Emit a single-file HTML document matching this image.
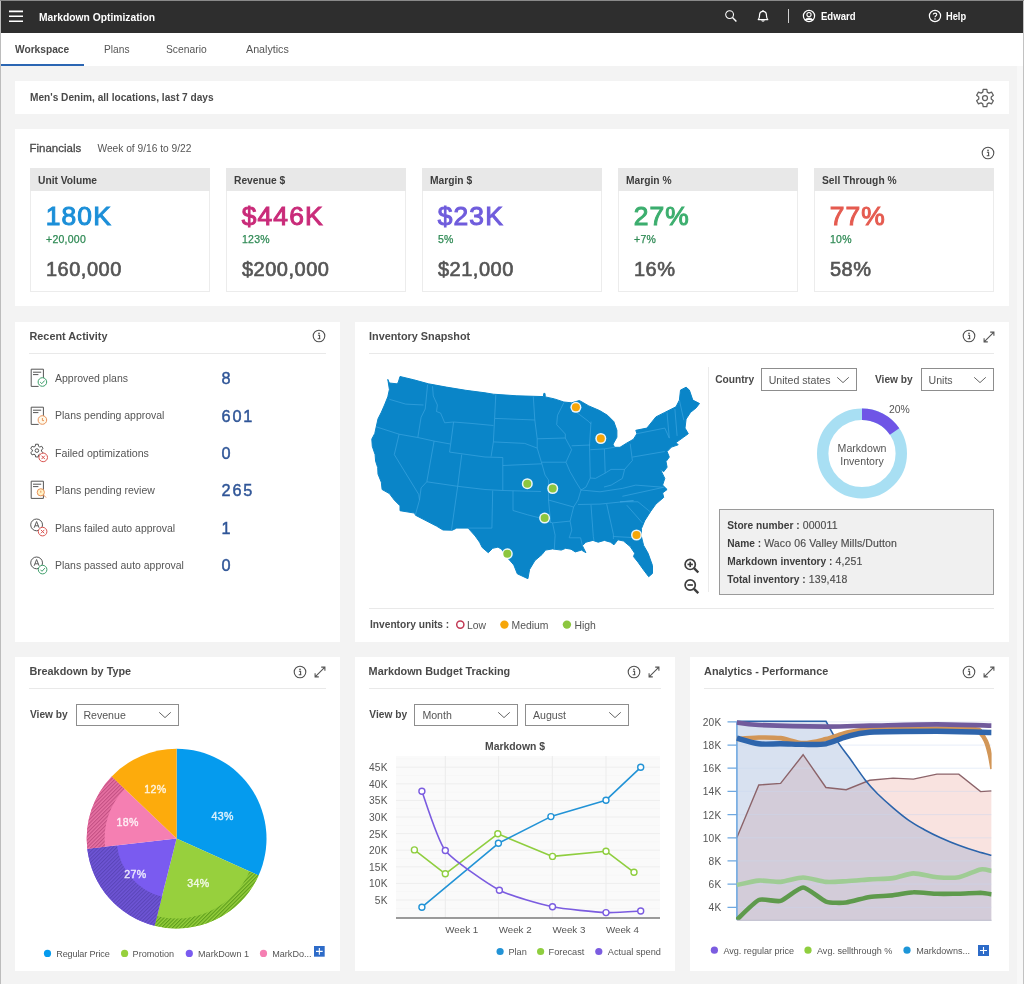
<!DOCTYPE html>
<html><head><meta charset="utf-8"><title>Markdown Optimization</title>
<style>
html,body{margin:0;padding:0;background:#f3f3f3;}
body{width:1024px;height:984px;overflow:hidden;position:relative;font-family:"Liberation Sans",sans-serif;}
.b{position:absolute;display:block;box-sizing:content-box;}
.t{position:absolute;white-space:nowrap;font-family:"Liberation Sans",sans-serif;}
svg{overflow:visible;}
#w{position:absolute;left:0;top:0;width:1024px;height:984px;will-change:transform;}
</style></head><body><div id="w">

<!-- s_header -->
<div class="b" style="left:0px;top:0px;width:1024px;height:984px;background:#f3f3f3;"></div>
<div class="b" style="left:0px;top:0px;width:1024px;height:33px;background:#2e2e2e;"></div>
<div class="b" style="left:0px;top:0px;width:1024px;height:1px;background:#8a8a8a;"></div>
<svg class="b" style="left:9px;top:8px;" width="14" height="16" viewBox="0 0 14 16"><path d="M0 3.4H14M0 8.3H14M0 13.2H14" stroke="#fff" stroke-width="1.6"/></svg>
<div class="t" style="top:9.70px;height:15px;line-height:15px;font-size:11px;color:#fff;font-weight:bold;left:39.00px;transform:scaleX(0.935);transform-origin:0 50%;">Markdown Optimization</div>
<svg class="b" style="left:723px;top:8px;" width="16" height="16" viewBox="0 0 16 16"><circle cx="6.6" cy="6.6" r="3.9" fill="none" stroke="#fff" stroke-width="1.05"/><path d="M9.5 9.5L13.4 13.4" stroke="#fff" stroke-width="1.4"/></svg>
<svg class="b" style="left:755px;top:8px;" width="16" height="16" viewBox="0 0 16 16"><path d="M3.2 11.6C4.6 10.4 4.4 8.6 4.6 6.6C4.8 4.6 6.2 3.4 8 3.4C9.8 3.4 11.2 4.6 11.4 6.6C11.6 8.6 11.4 10.4 12.8 11.6Z" fill="none" stroke="#fff" stroke-width="1.2" stroke-linejoin="round"/><path d="M8 3.4V2M6.8 12.2C6.9 13.4 9.1 13.4 9.2 12.2" fill="none" stroke="#fff" stroke-width="1.2"/></svg>
<div class="b" style="left:787.5px;top:9px;width:1px;height:14px;background:#d0d0d0;"></div>
<svg class="b" style="left:801px;top:8px;" width="16" height="16" viewBox="0 0 16 16"><circle cx="8" cy="8" r="5.6" fill="none" stroke="#fff" stroke-width="1.2"/><circle cx="8" cy="6.6" r="2.1" fill="none" stroke="#fff" stroke-width="1.1"/><path d="M4.2 11.9C5 9.6 11 9.6 11.8 11.9" fill="#fff" stroke="#fff" stroke-width="1"/></svg>
<div class="t" style="top:9.20px;height:15px;line-height:15px;font-size:10.8px;color:#fff;font-weight:bold;left:820.50px;transform:scaleX(0.885);transform-origin:0 50%;">Edward</div>
<svg class="b" style="left:927px;top:8px;" width="16" height="16" viewBox="0 0 16 16"><circle cx="8" cy="8" r="5.6" fill="none" stroke="#fff" stroke-width="1.2"/><path d="M6.3 6.6C6.3 4.6 9.8 4.6 9.8 6.6C9.8 7.8 8 7.8 8 9.3" fill="none" stroke="#fff" stroke-width="1.1"/><circle cx="8" cy="11" r="0.8" fill="#fff"/></svg>
<div class="t" style="top:9.20px;height:15px;line-height:15px;font-size:10.8px;color:#fff;font-weight:bold;left:946.00px;transform:scaleX(0.86);transform-origin:0 50%;">Help</div>
<div class="b" style="left:0px;top:33px;width:1024px;height:33px;background:#fff;"></div>
<div class="b" style="left:0px;top:64px;width:84px;height:2px;background:#2b66b3;"></div>
<div class="t" style="top:42.60px;height:14px;line-height:14px;font-size:10.2px;color:#4a4a4a;font-weight:bold;left:15.00px;">Workspace</div>
<div class="t" style="top:42.60px;height:14px;line-height:14px;font-size:10.2px;color:#555;left:104.00px;">Plans</div>
<div class="t" style="top:42.60px;height:14px;line-height:14px;font-size:10.3px;color:#555;left:166.00px;">Scenario</div>
<div class="t" style="top:42.10px;height:15px;line-height:15px;font-size:10.7px;color:#555;left:246.00px;">Analytics</div>
<div class="b" style="left:15px;top:81px;width:994px;height:33px;background:#fff;"></div>
<div class="t" style="top:90.90px;height:14px;line-height:14px;font-size:10.15px;color:#4a4a4a;font-weight:bold;left:30.00px;">Men's Denim, all locations, last 7 days</div>
<svg class="b" style="left:974.9px;top:87.6px;" width="20" height="20" viewBox="0 0 20 20"><path d="M7.74 4.12L8.17 1.39L11.83 1.39L12.26 4.12L13.96 5.10L16.54 4.11L18.37 7.28L16.22 9.01L16.22 10.99L18.37 12.72L16.54 15.89L13.96 14.90L12.26 15.88L11.83 18.61L8.17 18.61L7.74 15.88L6.04 14.90L3.46 15.89L1.63 12.72L3.78 10.99L3.78 9.01L1.63 7.28L3.46 4.11L6.04 5.10Z" fill="none" stroke="#606060" stroke-width="1.25" stroke-linejoin="round"/><circle cx="10" cy="10" r="2.5" fill="none" stroke="#606060" stroke-width="1.25"/></svg>
<div class="b" style="left:1016.5px;top:66px;width:6.5px;height:918px;background:#f8f8f8;"></div>
<div class="b" style="left:0px;top:1px;width:1px;height:983px;background:#bcbcbc;"></div>
<div class="b" style="left:1023px;top:1px;width:1px;height:983px;background:#c2c2c2;"></div>
<!-- s_fin -->
<div class="b" style="left:15px;top:129px;width:994px;height:177px;background:#fff;"></div>
<div class="t" style="top:139.60px;height:16px;line-height:16px;font-size:11.5px;color:#4a4a4a;left:29.50px;-webkit-text-stroke:0.3px #4a4a4a;">Financials</div>
<div class="t" style="top:142.10px;height:14px;line-height:14px;font-size:10.2px;color:#555;left:97.50px;">Week of 9/16 to 9/22</div>
<svg class="b" style="left:979.8px;top:145.39999999999998px;" width="16" height="16" viewBox="0 0 16 16"><circle cx="8" cy="8" r="5.8" fill="none" stroke="#505050" stroke-width="1.1"/><circle cx="8" cy="5.3" r="0.85" fill="#505050"/><path d="M6.9 7.2h1.7v3.4M6.7 10.7h2.7" fill="none" stroke="#505050" stroke-width="1.1"/></svg>
<div class="b" style="left:30px;top:168px;width:178px;height:122px;border:1px solid #ececec;background:#fff;"></div>
<div class="b" style="left:30px;top:168px;width:180px;height:23px;background:#e8e8e8;"></div>
<div class="t" style="top:173.90px;height:14px;line-height:14px;font-size:10.25px;color:#3d3d3d;font-weight:bold;left:38.00px;">Unit Volume</div>
<div class="t" style="top:197.50px;height:37px;line-height:37px;font-size:26.4px;color:#1c8fd8;letter-spacing:1.1px;left:45.80px;-webkit-text-stroke:1.05px #1c8fd8;">180K</div>
<div class="t" style="top:231.70px;height:15px;line-height:15px;font-size:10.5px;color:#2f8a55;letter-spacing:0.25px;left:46.00px;-webkit-text-stroke:0.25px #2f8a55;">+20,000</div>
<div class="t" style="top:255.30px;height:28px;line-height:28px;font-size:20px;color:#555;letter-spacing:0.5px;left:46.00px;-webkit-text-stroke:0.65px #555;">160,000</div>
<div class="b" style="left:226px;top:168px;width:178px;height:122px;border:1px solid #ececec;background:#fff;"></div>
<div class="b" style="left:226px;top:168px;width:180px;height:23px;background:#e8e8e8;"></div>
<div class="t" style="top:173.90px;height:14px;line-height:14px;font-size:10.25px;color:#3d3d3d;font-weight:bold;left:234.00px;">Revenue $</div>
<div class="t" style="top:197.50px;height:37px;line-height:37px;font-size:26.4px;color:#c92b79;letter-spacing:1.1px;left:241.80px;-webkit-text-stroke:1.05px #c92b79;">$446K</div>
<div class="t" style="top:231.70px;height:15px;line-height:15px;font-size:10.5px;color:#2f8a55;letter-spacing:0.25px;left:242.00px;-webkit-text-stroke:0.25px #2f8a55;">123%</div>
<div class="t" style="top:255.30px;height:28px;line-height:28px;font-size:20px;color:#555;letter-spacing:0.5px;left:242.00px;-webkit-text-stroke:0.65px #555;">$200,000</div>
<div class="b" style="left:422px;top:168px;width:178px;height:122px;border:1px solid #ececec;background:#fff;"></div>
<div class="b" style="left:422px;top:168px;width:180px;height:23px;background:#e8e8e8;"></div>
<div class="t" style="top:173.90px;height:14px;line-height:14px;font-size:10.25px;color:#3d3d3d;font-weight:bold;left:430.00px;">Margin $</div>
<div class="t" style="top:197.50px;height:37px;line-height:37px;font-size:26.4px;color:#6f5cdc;letter-spacing:1.1px;left:437.80px;-webkit-text-stroke:1.05px #6f5cdc;">$23K</div>
<div class="t" style="top:231.70px;height:15px;line-height:15px;font-size:10.5px;color:#2f8a55;letter-spacing:0.25px;left:438.00px;-webkit-text-stroke:0.25px #2f8a55;">5%</div>
<div class="t" style="top:255.30px;height:28px;line-height:28px;font-size:20px;color:#555;letter-spacing:0.5px;left:438.00px;-webkit-text-stroke:0.65px #555;">$21,000</div>
<div class="b" style="left:618px;top:168px;width:178px;height:122px;border:1px solid #ececec;background:#fff;"></div>
<div class="b" style="left:618px;top:168px;width:180px;height:23px;background:#e8e8e8;"></div>
<div class="t" style="top:173.90px;height:14px;line-height:14px;font-size:10.25px;color:#3d3d3d;font-weight:bold;left:626.00px;">Margin %</div>
<div class="t" style="top:197.50px;height:37px;line-height:37px;font-size:26.4px;color:#3cae6e;letter-spacing:1.1px;left:633.80px;-webkit-text-stroke:1.05px #3cae6e;">27%</div>
<div class="t" style="top:231.70px;height:15px;line-height:15px;font-size:10.5px;color:#2f8a55;letter-spacing:0.25px;left:634.00px;-webkit-text-stroke:0.25px #2f8a55;">+7%</div>
<div class="t" style="top:255.30px;height:28px;line-height:28px;font-size:20px;color:#555;letter-spacing:0.5px;left:634.00px;-webkit-text-stroke:0.65px #555;">16%</div>
<div class="b" style="left:814px;top:168px;width:178px;height:122px;border:1px solid #ececec;background:#fff;"></div>
<div class="b" style="left:814px;top:168px;width:180px;height:23px;background:#e8e8e8;"></div>
<div class="t" style="top:173.90px;height:14px;line-height:14px;font-size:10.25px;color:#3d3d3d;font-weight:bold;left:822.00px;">Sell Through %</div>
<div class="t" style="top:197.50px;height:37px;line-height:37px;font-size:26.4px;color:#e55b50;letter-spacing:1.1px;left:829.80px;-webkit-text-stroke:1.05px #e55b50;">77%</div>
<div class="t" style="top:231.70px;height:15px;line-height:15px;font-size:10.5px;color:#2f8a55;letter-spacing:0.25px;left:830.00px;-webkit-text-stroke:0.25px #2f8a55;">10%</div>
<div class="t" style="top:255.30px;height:28px;line-height:28px;font-size:20px;color:#555;letter-spacing:0.5px;left:830.00px;-webkit-text-stroke:0.65px #555;">58%</div>
<!-- s_activity -->
<div class="b" style="left:15px;top:322px;width:325px;height:320px;background:#fff;"></div>
<div class="t" style="top:328.90px;height:15px;line-height:15px;font-size:10.85px;color:#4a4a4a;font-weight:bold;left:29.50px;">Recent Activity</div>
<svg class="b" style="left:311.3px;top:328.2px;" width="16" height="16" viewBox="0 0 16 16"><circle cx="8" cy="8" r="5.8" fill="none" stroke="#505050" stroke-width="1.1"/><circle cx="8" cy="5.3" r="0.85" fill="#505050"/><path d="M6.9 7.2h1.7v3.4M6.7 10.7h2.7" fill="none" stroke="#505050" stroke-width="1.1"/></svg>
<div class="b" style="left:29px;top:353px;width:297px;height:1px;background:#e9e9e9;"></div>
<svg class="b" style="left:29.9px;top:368.0px;" width="20" height="22" viewBox="0 0 20 22"><path d="M1.2 1.2H13.4V10.2M8.6 18.4H1.2V1.2" fill="none" stroke="#555" stroke-width="1"/><path d="M3 4.2H11.2M3 6.6H8.4" fill="none" stroke="#555" stroke-width="1"/><circle cx="12.4" cy="14" r="4.3" fill="#fff" stroke="#3d9e6a" stroke-width="1"/><path d="M10.2 14.1L11.8 15.7L14.7 12.5" fill="none" stroke="#3d9e6a" stroke-width="1"/></svg>
<div class="t" style="top:370.60px;height:15px;line-height:15px;font-size:10.5px;color:#555;left:55.00px;">Approved plans</div>
<div class="t" style="top:366.50px;height:23px;line-height:23px;font-size:16.3px;color:#2f5597;letter-spacing:1.8px;left:221.60px;-webkit-text-stroke:0.45px #2f5597;">8</div>
<svg class="b" style="left:29.9px;top:405.5px;" width="20" height="22" viewBox="0 0 20 22"><path d="M1.2 1.2H13.4V10.2M8.6 18.4H1.2V1.2" fill="none" stroke="#555" stroke-width="1"/><path d="M3 4.2H11.2M3 6.6H8.4" fill="none" stroke="#555" stroke-width="1"/><circle cx="12.4" cy="14" r="4.3" fill="#fff8e8" stroke="#e8925a" stroke-width="1"/><path d="M12.4 12V14.6H14.0" fill="none" stroke="#e8925a" stroke-width="1"/></svg>
<div class="t" style="top:408.10px;height:15px;line-height:15px;font-size:10.48px;color:#555;left:55.00px;">Plans pending approval</div>
<div class="t" style="top:404.60px;height:23px;line-height:23px;font-size:16.3px;color:#2f5597;letter-spacing:1.8px;left:221.60px;-webkit-text-stroke:0.45px #2f5597;">601</div>
<svg class="b" style="left:30.2px;top:443.09999999999997px;" width="20" height="22" viewBox="0 0 20 22"><path d="M5.25 3.31L5.55 1.24L8.25 1.24L8.55 3.31L9.79 4.03L11.73 3.25L13.08 5.59L11.44 6.88L11.44 8.32L13.08 9.61L11.73 11.95L9.79 11.17L8.55 11.89L8.25 13.96L5.55 13.96L5.25 11.89L4.01 11.17L2.07 11.95L0.72 9.61L2.36 8.32L2.36 6.88L0.72 5.59L2.07 3.25L4.01 4.03Z" fill="none" stroke="#555" stroke-width="1" stroke-linejoin="round"/><circle cx="6.9" cy="7.6" r="1.8" fill="none" stroke="#555" stroke-width="1"/><circle cx="13.2" cy="14.4" r="4.3" fill="#fff" stroke="#d9534f" stroke-width="1"/><path d="M11.5 12.700000000000001L14.899999999999999 16.1M14.899999999999999 12.700000000000001L11.5 16.1" fill="none" stroke="#d9534f" stroke-width="1"/></svg>
<div class="t" style="top:445.60px;height:15px;line-height:15px;font-size:10.64px;color:#555;left:55.00px;">Failed optimizations</div>
<div class="t" style="top:441.50px;height:23px;line-height:23px;font-size:16.3px;color:#2f5597;letter-spacing:1.8px;left:221.60px;-webkit-text-stroke:0.45px #2f5597;">0</div>
<svg class="b" style="left:29.9px;top:480.0px;" width="20" height="22" viewBox="0 0 20 22"><path d="M1.2 1.2H13.4V18.4H1.2Z" fill="none" stroke="#555" stroke-width="1"/><path d="M3 4.2H11.2M3 6.6H8.4" fill="none" stroke="#555" stroke-width="1"/><circle cx="10.8" cy="12.3" r="3.6" fill="#fff3c8" stroke="#e8925a" stroke-width="1"/><path d="M10.8 10.700000000000001V12.700000000000001M13.4 14.9L16.0 17.5" fill="none" stroke="#e8925a" stroke-width="1"/></svg>
<div class="t" style="top:483.10px;height:15px;line-height:15px;font-size:10.5px;color:#555;left:55.00px;">Plans pending review</div>
<div class="t" style="top:479.00px;height:23px;line-height:23px;font-size:16.3px;color:#2f5597;letter-spacing:1.8px;left:221.60px;-webkit-text-stroke:0.45px #2f5597;">265</div>
<svg class="b" style="left:29.7px;top:518.4px;" width="20" height="22" viewBox="0 0 20 22"><circle cx="6.6" cy="6.9" r="5.9" fill="none" stroke="#555" stroke-width="1"/><path d="M4.1 9.8L6.6 3.5000000000000004L9.1 9.8M5.0 7.800000000000001H8.2" fill="none" stroke="#555" stroke-width="0.95"/><circle cx="12.6" cy="13.6" r="4.3" fill="#fff" stroke="#d9534f" stroke-width="1"/><path d="M10.9 11.9L14.299999999999999 15.299999999999999M14.299999999999999 11.9L10.9 15.299999999999999" fill="none" stroke="#d9534f" stroke-width="1"/></svg>
<div class="t" style="top:520.60px;height:15px;line-height:15px;font-size:10.45px;color:#555;left:55.00px;">Plans failed auto approval</div>
<div class="t" style="top:516.50px;height:23px;line-height:23px;font-size:16.3px;color:#2f5597;letter-spacing:1.8px;left:221.60px;-webkit-text-stroke:0.45px #2f5597;">1</div>
<svg class="b" style="left:29.7px;top:555.9px;" width="20" height="22" viewBox="0 0 20 22"><circle cx="6.6" cy="6.9" r="5.9" fill="none" stroke="#555" stroke-width="1"/><path d="M4.1 9.8L6.6 3.5000000000000004L9.1 9.8M5.0 7.800000000000001H8.2" fill="none" stroke="#555" stroke-width="0.95"/><circle cx="12.6" cy="13.6" r="4.3" fill="#fff" stroke="#3d9e6a" stroke-width="1"/><path d="M10.399999999999999 13.7L12.0 15.299999999999999L14.899999999999999 12.1" fill="none" stroke="#3d9e6a" stroke-width="1"/></svg>
<div class="t" style="top:558.10px;height:15px;line-height:15px;font-size:10.45px;color:#555;left:55.00px;">Plans passed auto approval</div>
<div class="t" style="top:554.00px;height:23px;line-height:23px;font-size:16.3px;color:#2f5597;letter-spacing:1.8px;left:221.60px;-webkit-text-stroke:0.45px #2f5597;">0</div>
<!-- s_inventory -->
<div class="b" style="left:355px;top:322px;width:654px;height:320px;background:#fff;"></div>
<div class="t" style="top:328.90px;height:15px;line-height:15px;font-size:10.85px;color:#4a4a4a;font-weight:bold;left:369.00px;">Inventory Snapshot</div>
<svg class="b" style="left:960.6999999999999px;top:328.2px;" width="16" height="16" viewBox="0 0 16 16"><circle cx="8" cy="8" r="5.8" fill="none" stroke="#505050" stroke-width="1.1"/><circle cx="8" cy="5.3" r="0.85" fill="#505050"/><path d="M6.9 7.2h1.7v3.4M6.7 10.7h2.7" fill="none" stroke="#505050" stroke-width="1.1"/></svg>
<svg class="b" style="left:980.5px;top:328.8px;" width="16" height="16" viewBox="0 0 16 16"><path d="M3.0999999999999996 12.9L12.9 3.0999999999999996M9.2 3.0999999999999996H12.9V6.8M3.0999999999999996 9.2V12.9H6.8" fill="none" stroke="#555" stroke-width="1.1"/></svg>
<div class="b" style="left:369px;top:353px;width:625px;height:1px;background:#e9e9e9;"></div>
<svg class="b" style="left:0px;top:0px;" width="1024" height="984" viewBox="0 0 1024 984"><path d="M387.8 379.4L389.4 383.0L396.7 383.8L398.3 382.2L400.0 376.5L413.8 379.8L428.4 383.8L446.3 387.1L465.8 390.3L485.0 392.8L493.4 394.2L516.9 395.8L543.4 396.6L543.8 393.4L545.0 393.4L545.3 396.9L554.4 398.9L563.8 402.0L571.6 402.8L579.4 400.5L588.8 405.9L599.7 410.6L607.5 415.3L613.8 421.6L616.9 430.2L616.9 437.2L613.0 444.2L614.5 447.3L620.0 447.3L626.2 443.4L633.5 439.2L636.9 433.7L635.8 430.3L646.9 428.1L655.9 416.9L664.8 412.4L676.0 406.8L679.4 400.1L680.5 390.1L686.1 387.2L689.4 390.1L692.8 400.1L699.5 403.5L696.1 407.9L690.5 412.4L686.1 419.1L685.0 428.1L688.3 433.7L683.8 437.0L676.0 442.6L678.2 444.8L671.5 447.1L667.1 451.5L669.3 457.1L666.0 461.6L667.1 467.2L663.7 471.7L660.4 469.4L664.8 478.4L662.6 485.1L667.1 489.5L662.6 492.9L663.7 497.4L655.9 504.1L650.3 511.9L644.7 520.8L641.4 528.7L641.4 536.5L643.6 545.4L648.1 553.3L652.5 565.6L652.5 573.4L648.7 576.7L643.6 570.0L638.0 562.2L633.5 556.6L634.7 553.3L630.2 546.6L623.5 541.0L617.9 539.8L614.0 544.8L610.5 542.2L604.4 540.4L598.2 542.2L592.9 540.4L585.9 542.2L582.4 545.7L585.9 552.7L581.5 550.1L575.3 551.9L571.0 549.2L565.7 548.3L561.3 550.1L552.5 548.9L545.5 550.1L542.0 554.5L534.9 560.6L529.6 569.4L527.9 578.7L517.3 573.8L513.8 565.0L507.7 558.0L501.5 549.2L498.0 547.1L492.7 548.3L488.3 552.7L482.2 547.5L479.6 542.2L475.2 536.0L468.1 528.1L456.7 528.1L452.3 530.2L443.0 530.0L436.5 526.1L415.4 515.2L414.6 513.1L400.0 510.7L400.0 505.8L394.3 500.1L389.4 493.6L382.1 489.5L381.3 482.2L378.0 474.1L377.7 467.6L375.6 461.1L375.1 454.6L372.3 446.4L371.8 439.1L374.8 433.4L376.4 426.1L378.0 418.8L381.3 412.3L384.5 405.0L387.8 396.8L389.4 389.5Z" fill="#0a85c8" stroke="#0a85c8" stroke-width="1" stroke-linejoin="round"/><path d="M389.4 399.3L405.7 404.1L423.5 405.0M427.6 384.6L425.2 409.0L421.1 417.2L417.8 437.5M432.5 386.3L433.3 396.0L437.4 405.0L436.5 411.5L440.6 413.1L444.7 422.8L453.6 422.0M376.4 426.9L399.1 434.2L417.8 437.5L434.1 441.1L450.4 444.0M399.1 434.2L394.3 454.6L418.7 494.4L419.5 500.0L415.4 514.7M434.1 441.1L426.8 481.8L421.1 487.9L419.5 500.0M453.6 422.0L449.6 452.1L485.0 457.0L502.8 457.5M453.6 422.0L470.0 423.3L493.4 425.5M461.7 454.6L457.7 486.3M426.8 481.8L457.7 486.3L485.0 489.5L502.8 490.5L541.0 491.5M457.7 486.3L451.5 530.0M495.8 395.0L493.4 441.9L491.1 456.5M495.0 418.4L534.8 420.0M533.3 396.6L534.8 420.0L537.2 438.8L537.2 448.1L541.9 463.8L545.0 475.0L548.5 480.0L548.5 500.0M493.4 441.9L524.7 443.4L537.2 448.1M502.8 457.5L502.8 490.5M502.8 465.5L541.9 463.8M537.2 438.8L565.3 438.0M541.9 462.2L566.0 462.2M563.8 402.8L557.5 415.3L556.7 424.7L565.3 434.0L565.3 438.0L571.6 449.7L566.0 462.2L570.0 471.6L576.0 482.0L581.0 490.0L578.0 500.0L573.6 507.0L570.1 521.1L571.8 530.0L569.2 537.8M571.6 445.8L590.3 445.0M576.2 412.0L588.8 421.6L591.0 424.0M591.0 421.6L589.5 445.0L590.3 478.0L586.0 487.0L581.0 490.0M590.3 449.7L604.4 448.9L605.2 473.1L595.5 478.4L590.3 478.0M604.4 448.9L614.5 447.3M605.2 473.1L611.0 469.4L624.6 469.4L632.4 460.5L630.2 443.7M632.4 457.1L664.8 451.5M636.9 433.7L664.8 428.1L669.3 438.1M667.0 412.4L669.3 438.1M674.9 409.0L677.1 435.9M679.4 400.1L683.8 420.2M624.6 469.4L622.4 478.4L611.2 485.1L604.0 487.0M581.0 490.0L600.0 491.8L622.4 488.4L635.8 485.1L663.7 487.3M622.4 496.3L663.7 487.3M578.0 504.5L600.0 504.1L633.5 500.7L620.0 501.8M620.0 501.8L638.0 501.8L650.3 511.9M626.8 505.2L642.5 523.0M606.7 504.1L613.4 534.3L613.4 539.0M591.0 505.0L593.3 536.5L594.0 541.0M613.4 536.5L633.5 537.6L636.0 535.0M492.7 490.5L491.9 528.1L468.1 528.1M513.0 490.8L513.0 510.5L527.9 514.9L538.4 517.6L552.5 522.9L570.1 521.1M552.5 522.9L555.1 535.2L554.3 549.2M569.2 537.8L580.6 537.8L582.4 545.7M548.5 500.0L573.6 507.0M548.5 500.0L550.7 522.9" fill="none" stroke="#3ba4e0" stroke-width="1" stroke-linejoin="round" opacity="0.7"/><circle cx="575.9" cy="407.3" r="5.5" fill="#fff" opacity="0.92"/><circle cx="575.9" cy="407.3" r="4" fill="#f6a609"/><circle cx="600.8" cy="438.5" r="5.5" fill="#fff" opacity="0.92"/><circle cx="600.8" cy="438.5" r="4" fill="#f6a609"/><circle cx="636.5" cy="535" r="5.5" fill="#fff" opacity="0.92"/><circle cx="636.5" cy="535" r="4" fill="#f6a609"/><circle cx="527.3" cy="483.7" r="5.5" fill="#fff" opacity="0.92"/><circle cx="527.3" cy="483.7" r="4" fill="#8cc63f"/><circle cx="552.7" cy="488.5" r="5.5" fill="#fff" opacity="0.92"/><circle cx="552.7" cy="488.5" r="4" fill="#8cc63f"/><circle cx="544.6" cy="518.1" r="5.5" fill="#fff" opacity="0.92"/><circle cx="544.6" cy="518.1" r="4" fill="#8cc63f"/><circle cx="507.3" cy="553.8" r="5.5" fill="#fff" opacity="0.92"/><circle cx="507.3" cy="553.8" r="4" fill="#8cc63f"/><circle cx="690.2" cy="564.4" r="5.1" fill="none" stroke="#3d3d3d" stroke-width="1.7"/><path d="M694 568.1999999999999L698.3 572.5" stroke="#3d3d3d" stroke-width="2.4" /><path d="M687.5 564.4H692.9" stroke="#3d3d3d" stroke-width="1.7"/><path d="M690.2 561.6999999999999V567.1" stroke="#3d3d3d" stroke-width="1.7"/><circle cx="690.2" cy="585" r="5.1" fill="none" stroke="#3d3d3d" stroke-width="1.7"/><path d="M694 588.8L698.3 593.1" stroke="#3d3d3d" stroke-width="2.4" /><path d="M687.5 585H692.9" stroke="#3d3d3d" stroke-width="1.7"/></svg>
<div class="b" style="left:708px;top:367px;width:1px;height:225px;background:#ebebeb;"></div>
<div class="t" style="top:372.60px;height:14px;line-height:14px;font-size:10.2px;color:#4a4a4a;font-weight:bold;left:715.20px;">Country</div>
<div class="b" style="left:761px;top:368.4px;width:93.6px;height:20.2px;border:1px solid #8d8d8d;background:#fff;"></div><div class="t" style="top:373.10px;height:15px;line-height:15px;font-size:10.6px;color:#555;left:768.70px;">United states</div><svg class="b" style="left:835.7px;top:375.5px;" width="14" height="8" viewBox="0 0 14 8"><path d="M1.2 1.3L7 6.6L12.8 1.3" fill="none" stroke="#666" stroke-width="1"/></svg>
<div class="t" style="top:372.60px;height:14px;line-height:14px;font-size:10.2px;color:#4a4a4a;font-weight:bold;left:875.00px;">View by</div>
<div class="b" style="left:920.6px;top:368.4px;width:71.2px;height:20.2px;border:1px solid #8d8d8d;background:#fff;"></div><div class="t" style="top:373.10px;height:15px;line-height:15px;font-size:10.6px;color:#555;left:928.50px;">Units</div><svg class="b" style="left:973px;top:375.5px;" width="14" height="8" viewBox="0 0 14 8"><path d="M1.2 1.3L7 6.6L12.8 1.3" fill="none" stroke="#666" stroke-width="1"/></svg>
<svg class="b" style="left:0px;top:0px;" width="1024" height="984" viewBox="0 0 1024 984"><circle cx="862" cy="453.5" r="39.3" fill="none" stroke="#a8dff3" stroke-width="11.4"/><path d="M862.00 408.50A45 45 0 0 1 899.31 428.34L889.86 434.71A33.6 33.6 0 0 0 862.00 419.90Z" fill="#6f55e6"/></svg>
<div class="t" style="top:402.00px;height:15px;line-height:15px;font-size:10.4px;color:#555;left:889.00px;">20%</div>
<div class="t" style="top:440.70px;height:15px;line-height:15px;font-size:10.6px;color:#555;left:862.00px;transform:translateX(-50%);">Markdown</div>
<div class="t" style="top:453.70px;height:15px;line-height:15px;font-size:10.6px;color:#555;left:862.00px;transform:translateX(-50%);">Inventory</div>
<div class="b" style="left:719px;top:509px;width:273px;height:83.6px;border:1px solid #9a9a9a;background:#f0f0f0;"></div>
<div class="t" style="top:518.10px;height:15px;line-height:15px;font-size:10.5px;color:#4d4d4d;letter-spacing:0.12px;left:727.20px;-webkit-text-stroke:0.15px #4d4d4d;"><b style="color:#3d3d3d;font-size:10.2px;letter-spacing:0;-webkit-text-stroke:0">Store number :</b> 000011</div>
<div class="t" style="top:536.10px;height:15px;line-height:15px;font-size:10.5px;color:#4d4d4d;letter-spacing:0.12px;left:727.20px;-webkit-text-stroke:0.15px #4d4d4d;"><b style="color:#3d3d3d;font-size:10.2px;letter-spacing:0;-webkit-text-stroke:0">Name :</b> Waco 06 Valley Mills/Dutton</div>
<div class="t" style="top:554.10px;height:15px;line-height:15px;font-size:10.5px;color:#4d4d4d;letter-spacing:0.12px;left:727.20px;-webkit-text-stroke:0.15px #4d4d4d;"><b style="color:#3d3d3d;font-size:10.2px;letter-spacing:0;-webkit-text-stroke:0">Markdown inventory :</b> 4,251</div>
<div class="t" style="top:572.10px;height:15px;line-height:15px;font-size:10.5px;color:#4d4d4d;letter-spacing:0.12px;left:727.20px;-webkit-text-stroke:0.15px #4d4d4d;"><b style="color:#3d3d3d;font-size:10.2px;letter-spacing:0;-webkit-text-stroke:0">Total inventory :</b> 139,418</div>
<div class="b" style="left:369px;top:608px;width:625px;height:1px;background:#e9e9e9;"></div>
<div class="t" style="top:618.00px;height:14px;line-height:14px;font-size:10.2px;color:#4a4a4a;font-weight:bold;left:370.00px;">Inventory units :</div>
<svg class="b" style="left:0px;top:0px;" width="1024" height="984" viewBox="0 0 1024 984"><circle cx="460.3" cy="624.6" r="3.6" fill="#fff" stroke="#c23a55" stroke-width="1.5"/><circle cx="504.4" cy="624.6" r="4.2" fill="#f6a609"/><circle cx="566.9" cy="624.6" r="4.2" fill="#8cc63f"/></svg>
<div class="t" style="top:617.70px;height:15px;line-height:15px;font-size:10.4px;color:#555;left:467.00px;">Low</div>
<div class="t" style="top:617.70px;height:15px;line-height:15px;font-size:10.4px;color:#555;left:511.50px;">Medium</div>
<div class="t" style="top:617.70px;height:15px;line-height:15px;font-size:10.4px;color:#555;left:574.40px;">High</div>
<!-- s_breakdown -->
<div class="b" style="left:15px;top:657px;width:325px;height:314px;background:#fff;"></div>
<div class="t" style="top:663.90px;height:15px;line-height:15px;font-size:10.85px;color:#4a4a4a;font-weight:bold;left:29.50px;">Breakdown by Type</div>
<svg class="b" style="left:292.0px;top:663.5px;" width="16" height="16" viewBox="0 0 16 16"><circle cx="8" cy="8" r="5.8" fill="none" stroke="#505050" stroke-width="1.1"/><circle cx="8" cy="5.3" r="0.85" fill="#505050"/><path d="M6.9 7.2h1.7v3.4M6.7 10.7h2.7" fill="none" stroke="#505050" stroke-width="1.1"/></svg>
<svg class="b" style="left:311.8px;top:664.0999999999999px;" width="16" height="16" viewBox="0 0 16 16"><path d="M3.0999999999999996 12.9L12.9 3.0999999999999996M9.2 3.0999999999999996H12.9V6.8M3.0999999999999996 9.2V12.9H6.8" fill="none" stroke="#555" stroke-width="1.1"/></svg>
<div class="b" style="left:29px;top:688px;width:297px;height:1px;background:#e9e9e9;"></div>
<div class="t" style="top:707.60px;height:14px;line-height:14px;font-size:10.2px;color:#4a4a4a;font-weight:bold;left:30.00px;">View by</div>
<div class="b" style="left:75.5px;top:703.7px;width:101.2px;height:20.2px;border:1px solid #8d8d8d;background:#fff;"></div><div class="t" style="top:708.40px;height:15px;line-height:15px;font-size:10.6px;color:#555;left:83.40px;">Revenue</div><svg class="b" style="left:158px;top:710.8000000000001px;" width="14" height="8" viewBox="0 0 14 8"><path d="M1.2 1.3L7 6.6L12.8 1.3" fill="none" stroke="#666" stroke-width="1"/></svg>
<svg class="b" style="left:0px;top:0px;" width="1024" height="984" viewBox="0 0 1024 984"><defs><pattern id="hg" width="2.6" height="2.6" patternUnits="userSpaceOnUse" patternTransform="rotate(45)"><rect width="2.6" height="2.6" fill="#97d03d"/><rect width="1.2" height="2.6" fill="#5e9e1c"/></pattern><pattern id="hp" width="2.6" height="2.6" patternUnits="userSpaceOnUse" patternTransform="rotate(45)"><rect width="2.6" height="2.6" fill="#6f55d6"/><rect width="1.1" height="2.6" fill="#5a45b8"/></pattern><pattern id="hk" width="2.6" height="2.6" patternUnits="userSpaceOnUse" patternTransform="rotate(45)"><rect width="2.6" height="2.6" fill="#e873a4"/><rect width="1.1" height="2.6" fill="#c24f82"/></pattern></defs><path d="M176.6 838.6L176.60 748.70A89.9 89.9 0 0 1 258.60 875.45Z" fill="#059bee"/><path d="M176.6 838.6L258.60 875.45A89.9 89.9 0 0 1 154.55 925.75Z" fill="#97d03d"/><path d="M258.60 875.45A89.9 89.9 0 0 1 154.55 925.75L156.98 916.16A80 80 0 0 0 249.57 871.39Z" fill="url(#hg)"/><path d="M176.6 838.6L154.55 925.75A89.9 89.9 0 0 1 87.28 848.78Z" fill="#7a5bf0"/><path d="M154.55 925.75A89.9 89.9 0 0 1 87.28 848.78L116.99 845.39A60 60 0 0 0 161.88 896.77Z" fill="url(#hp)"/><path d="M176.6 838.6L87.28 848.78A89.9 89.9 0 0 1 111.71 776.38Z" fill="#f57fb2"/><path d="M87.28 848.78A89.9 89.9 0 0 1 111.71 776.38L124.63 788.77A72 72 0 0 0 105.06 846.75Z" fill="url(#hk)"/><path d="M176.6 838.6L111.71 776.38A89.9 89.9 0 0 1 176.60 748.70Z" fill="#fdab0c"/><circle cx="47.5" cy="953.4" r="3.6" fill="#059bee"/><circle cx="124.6" cy="953.4" r="3.6" fill="#97d03d"/><circle cx="189.3" cy="953.4" r="3.6" fill="#7a5bf0"/><circle cx="263.5" cy="953.4" r="3.6" fill="#f57fb2"/></svg>
<div class="t" style="top:809.00px;height:15px;line-height:15px;font-size:10.6px;color:#fff;letter-spacing:0.35px;left:222.60px;transform:translateX(-50%);opacity:0.86;-webkit-text-stroke:0.4px #fff;">43%</div>
<div class="t" style="top:876.10px;height:15px;line-height:15px;font-size:10.6px;color:#fff;letter-spacing:0.35px;left:198.50px;transform:translateX(-50%);opacity:0.86;-webkit-text-stroke:0.4px #fff;">34%</div>
<div class="t" style="top:866.90px;height:15px;line-height:15px;font-size:10.6px;color:#fff;letter-spacing:0.35px;left:135.50px;transform:translateX(-50%);opacity:0.86;-webkit-text-stroke:0.4px #fff;">27%</div>
<div class="t" style="top:815.30px;height:15px;line-height:15px;font-size:10.6px;color:#fff;letter-spacing:0.35px;left:127.60px;transform:translateX(-50%);opacity:0.86;-webkit-text-stroke:0.4px #fff;">18%</div>
<div class="t" style="top:782.00px;height:15px;line-height:15px;font-size:10.6px;color:#fff;letter-spacing:0.35px;left:155.50px;transform:translateX(-50%);opacity:0.86;-webkit-text-stroke:0.4px #fff;">12%</div>
<div class="t" style="top:947.90px;height:13px;line-height:13px;font-size:9.1px;color:#555;letter-spacing:-0.12px;left:56.20px;">Regular Price</div>
<div class="t" style="top:947.90px;height:13px;line-height:13px;font-size:9.1px;color:#555;left:132.60px;">Promotion</div>
<div class="t" style="top:947.90px;height:13px;line-height:13px;font-size:9.1px;color:#555;left:198.00px;">MarkDown 1</div>
<div class="t" style="top:947.90px;height:13px;line-height:13px;font-size:9.1px;color:#555;left:272.20px;">MarkDo...</div>
<svg class="b" style="left:314.2px;top:946px;" width="10.7" height="10.7" viewBox="0 0 10.7 10.7"><rect width="10.7" height="10.7" fill="#2d6bc8"/><path d="M5.35 2V8.7M2 5.35H8.7" stroke="#fff" stroke-width="1.1"/></svg>
<!-- s_budget -->
<div class="b" style="left:355px;top:657px;width:320px;height:314px;background:#fff;"></div>
<div class="t" style="top:663.90px;height:15px;line-height:15px;font-size:10.85px;color:#4a4a4a;font-weight:bold;left:368.60px;">Markdown Budget Tracking</div>
<svg class="b" style="left:626.1999999999999px;top:663.5px;" width="16" height="16" viewBox="0 0 16 16"><circle cx="8" cy="8" r="5.8" fill="none" stroke="#505050" stroke-width="1.1"/><circle cx="8" cy="5.3" r="0.85" fill="#505050"/><path d="M6.9 7.2h1.7v3.4M6.7 10.7h2.7" fill="none" stroke="#505050" stroke-width="1.1"/></svg>
<svg class="b" style="left:646.0px;top:664.0999999999999px;" width="16" height="16" viewBox="0 0 16 16"><path d="M3.0999999999999996 12.9L12.9 3.0999999999999996M9.2 3.0999999999999996H12.9V6.8M3.0999999999999996 9.2V12.9H6.8" fill="none" stroke="#555" stroke-width="1.1"/></svg>
<div class="b" style="left:369px;top:688px;width:292px;height:1px;background:#e9e9e9;"></div>
<div class="t" style="top:707.60px;height:14px;line-height:14px;font-size:10.2px;color:#4a4a4a;font-weight:bold;left:369.30px;">View by</div>
<div class="b" style="left:414.4px;top:703.7px;width:101.3px;height:20.2px;border:1px solid #8d8d8d;background:#fff;"></div><div class="t" style="top:708.40px;height:15px;line-height:15px;font-size:10.6px;color:#555;left:422.40px;">Month</div><svg class="b" style="left:496.8px;top:710.8000000000001px;" width="14" height="8" viewBox="0 0 14 8"><path d="M1.2 1.3L7 6.6L12.8 1.3" fill="none" stroke="#666" stroke-width="1"/></svg>
<div class="b" style="left:525.3px;top:703.7px;width:101.3px;height:20.2px;border:1px solid #8d8d8d;background:#fff;"></div><div class="t" style="top:708.40px;height:15px;line-height:15px;font-size:10.6px;color:#555;left:533.00px;">August</div><svg class="b" style="left:607.8px;top:710.8000000000001px;" width="14" height="8" viewBox="0 0 14 8"><path d="M1.2 1.3L7 6.6L12.8 1.3" fill="none" stroke="#666" stroke-width="1"/></svg>
<div class="t" style="top:739.10px;height:15px;line-height:15px;font-size:10.4px;color:#4a4a4a;font-weight:bold;left:515.00px;transform:translateX(-50%);">Markdown $</div>
<svg class="b" style="left:0px;top:0px;" width="1024" height="984" viewBox="0 0 1024 984"><rect x="396" y="756" width="264" height="162" fill="#fafafa"/><path d="M396 767.2H660M396 783.8H660M396 800.4H660M396 817.0H660M396 833.6H660M396 850.2H660M396 866.8H660M396 883.4H660M396 900.0H660" stroke="#eeeeee" stroke-width="1" fill="none"/><path d="M396 758.9H660M396 775.5H660M396 792.1H660M396 808.7H660M396 825.3H660M396 841.9H660M396 858.5H660M396 875.1H660M396 891.7H660M396 908.3H660" stroke="#f7f7f7" stroke-width="1" fill="none"/><path d="M445.3 756V918M498.6 756V918M552.3 756V918M606 756V918" stroke="#ececec" stroke-width="1" fill="none"/><path d="M396 918H660" stroke="#7a7a7a" stroke-width="1.6"/><path d="M414.4 849.9L445.3 873.8L497.8 833.8L552.5 856.4L606 851.2L634 872.3" fill="none" stroke="#8fce3f" stroke-width="1.6" stroke-linejoin="round"/><path d="M421.9 907.2L498.4 843.3L550.9 816.6L606 800.2L640.7 767.3" fill="none" stroke="#2293d6" stroke-width="1.6" stroke-linejoin="round"/><path d="M421.9 791.2C424.2 797.1 437.6 840.6 445.3 850.5C453.1 860.4 488.7 884.6 499.4 890.2C510.1 895.8 541.8 904.6 552.5 906.8C563.2 909.0 597.2 912.2 606.0 912.6C614.8 913.0 637.2 911.2 640.7 911.0" fill="none" stroke="#7b5ce0" stroke-width="1.6"/><circle cx="414.4" cy="849.9" r="3" fill="#fff" stroke="#8fce3f" stroke-width="1.4"/><circle cx="445.3" cy="873.8" r="3" fill="#fff" stroke="#8fce3f" stroke-width="1.4"/><circle cx="497.8" cy="833.8" r="3" fill="#fff" stroke="#8fce3f" stroke-width="1.4"/><circle cx="552.5" cy="856.4" r="3" fill="#fff" stroke="#8fce3f" stroke-width="1.4"/><circle cx="606" cy="851.2" r="3" fill="#fff" stroke="#8fce3f" stroke-width="1.4"/><circle cx="634" cy="872.3" r="3" fill="#fff" stroke="#8fce3f" stroke-width="1.4"/><circle cx="421.9" cy="907.2" r="3" fill="#fff" stroke="#2293d6" stroke-width="1.4"/><circle cx="498.4" cy="843.3" r="3" fill="#fff" stroke="#2293d6" stroke-width="1.4"/><circle cx="550.9" cy="816.6" r="3" fill="#fff" stroke="#2293d6" stroke-width="1.4"/><circle cx="606" cy="800.2" r="3" fill="#fff" stroke="#2293d6" stroke-width="1.4"/><circle cx="640.7" cy="767.3" r="3" fill="#fff" stroke="#2293d6" stroke-width="1.4"/><circle cx="421.9" cy="791.2" r="3" fill="#fff" stroke="#7b5ce0" stroke-width="1.4"/><circle cx="445.3" cy="850.5" r="3" fill="#fff" stroke="#7b5ce0" stroke-width="1.4"/><circle cx="499.4" cy="890.2" r="3" fill="#fff" stroke="#7b5ce0" stroke-width="1.4"/><circle cx="552.5" cy="906.8" r="3" fill="#fff" stroke="#7b5ce0" stroke-width="1.4"/><circle cx="606" cy="912.6" r="3" fill="#fff" stroke="#7b5ce0" stroke-width="1.4"/><circle cx="640.7" cy="911" r="3" fill="#fff" stroke="#7b5ce0" stroke-width="1.4"/><circle cx="500.1" cy="951.5" r="3.6" fill="#2293d6"/><circle cx="540.6" cy="951.5" r="3.6" fill="#8fce3f"/><circle cx="598.8" cy="951.5" r="3.6" fill="#7b5ce0"/></svg>
<div class="t" style="top:761.20px;height:14px;line-height:14px;font-size:10.2px;color:#555;letter-spacing:0.2px;left:387.70px;transform:translateX(-100%);">45K</div>
<div class="t" style="top:777.80px;height:14px;line-height:14px;font-size:10.2px;color:#555;letter-spacing:0.2px;left:387.70px;transform:translateX(-100%);">40K</div>
<div class="t" style="top:794.40px;height:14px;line-height:14px;font-size:10.2px;color:#555;letter-spacing:0.2px;left:387.70px;transform:translateX(-100%);">35K</div>
<div class="t" style="top:811.00px;height:14px;line-height:14px;font-size:10.2px;color:#555;letter-spacing:0.2px;left:387.70px;transform:translateX(-100%);">30K</div>
<div class="t" style="top:827.60px;height:14px;line-height:14px;font-size:10.2px;color:#555;letter-spacing:0.2px;left:387.70px;transform:translateX(-100%);">25K</div>
<div class="t" style="top:844.20px;height:14px;line-height:14px;font-size:10.2px;color:#555;letter-spacing:0.2px;left:387.70px;transform:translateX(-100%);">20K</div>
<div class="t" style="top:860.80px;height:14px;line-height:14px;font-size:10.2px;color:#555;letter-spacing:0.2px;left:387.70px;transform:translateX(-100%);">15K</div>
<div class="t" style="top:877.40px;height:14px;line-height:14px;font-size:10.2px;color:#555;letter-spacing:0.2px;left:387.70px;transform:translateX(-100%);">10K</div>
<div class="t" style="top:894.00px;height:14px;line-height:14px;font-size:10.2px;color:#555;letter-spacing:0.2px;left:387.70px;transform:translateX(-100%);">5K</div>
<div class="t" style="top:923.00px;height:14px;line-height:14px;font-size:9.75px;color:#555;left:445.30px;">Week 1</div>
<div class="t" style="top:923.00px;height:14px;line-height:14px;font-size:9.75px;color:#555;left:498.70px;">Week 2</div>
<div class="t" style="top:923.00px;height:14px;line-height:14px;font-size:9.75px;color:#555;left:552.50px;">Week 3</div>
<div class="t" style="top:923.00px;height:14px;line-height:14px;font-size:9.75px;color:#555;left:606.00px;">Week 4</div>
<div class="t" style="top:946.10px;height:13px;line-height:13px;font-size:9.2px;color:#555;left:508.40px;">Plan</div>
<div class="t" style="top:946.10px;height:13px;line-height:13px;font-size:9.2px;color:#555;left:548.60px;">Forecast</div>
<div class="t" style="top:946.10px;height:13px;line-height:13px;font-size:9.2px;color:#555;left:607.80px;">Actual spend</div>
<!-- s_analytics -->
<div class="b" style="left:690px;top:657px;width:319px;height:314px;background:#fff;"></div>
<div class="t" style="top:663.90px;height:15px;line-height:15px;font-size:10.85px;color:#4a4a4a;font-weight:bold;left:704.10px;">Analytics - Performance</div>
<svg class="b" style="left:960.9px;top:663.5px;" width="16" height="16" viewBox="0 0 16 16"><circle cx="8" cy="8" r="5.8" fill="none" stroke="#505050" stroke-width="1.1"/><circle cx="8" cy="5.3" r="0.85" fill="#505050"/><path d="M6.9 7.2h1.7v3.4M6.7 10.7h2.7" fill="none" stroke="#505050" stroke-width="1.1"/></svg>
<svg class="b" style="left:980.5px;top:664.0999999999999px;" width="16" height="16" viewBox="0 0 16 16"><path d="M3.0999999999999996 12.9L12.9 3.0999999999999996M9.2 3.0999999999999996H12.9V6.8M3.0999999999999996 9.2V12.9H6.8" fill="none" stroke="#555" stroke-width="1.1"/></svg>
<div class="b" style="left:704px;top:688px;width:290px;height:1px;background:#e9e9e9;"></div>
<svg class="b" style="left:0px;top:0px;" width="1024" height="984" viewBox="0 0 1024 984"><defs><clipPath id="ac"><rect x="735.9" y="717.9" width="255.70000000000005" height="202.39999999999998"/></clipPath></defs><path d="M727.5 721.9H736.9M727.5 745.1H736.9M727.5 768.2H736.9M727.5 791.4H736.9M727.5 814.6H736.9M727.5 837.8H736.9M727.5 860.9H736.9M727.5 884.1H736.9M727.5 907.3H736.9" stroke="#6fa8e0" stroke-width="1.2" fill="none"/><g clip-path="url(#ac)"><path d="M736.9 837.5L758.8 785.0L780.6 783.4L803.1 754.7L825.9 787.5L846.2 789.7L869.7 780.3L893.1 778.1L913.4 779.1L936.9 774.1L958.8 774.1L980.6 791.6L991.6 790.9L991.6 920.3L736.9 920.3Z" fill="#e8968c" fill-opacity="0.27"/><path d="M736.9 721.2L825.9 721.2C827.7 724.4 833.1 734.8 836.9 740.6C840.6 746.5 844.9 751.6 849.4 757.8C853.9 764.1 860.5 773.9 865.0 779.7C869.5 785.4 873.0 789.2 877.5 793.8C882.0 798.2 888.1 803.6 893.1 807.8C898.1 812.1 903.8 816.8 908.8 820.3C913.8 823.8 919.4 826.9 924.4 829.7C929.4 832.4 934.5 835.0 940.0 837.5C945.5 840.0 952.8 843.1 958.8 845.3C964.8 847.6 972.2 850.0 977.5 851.6C982.8 853.2 989.3 854.7 991.6 855.3L991.6 920.3L736.9 920.3Z" fill="#6f90c9" fill-opacity="0.27"/><path d="M736.9 721.9H991.6M736.9 745.1H991.6M736.9 768.2H991.6M736.9 791.4H991.6M736.9 814.6H991.6M736.9 837.8H991.6M736.9 860.9H991.6M736.9 884.1H991.6M736.9 907.3H991.6" stroke="#c9d8ef" stroke-opacity="0.45" stroke-width="1" fill="none"/><path d="M736.9 837.5L758.8 785.0L780.6 783.4L803.1 754.7L825.9 787.5L846.2 789.7L869.7 780.3L893.1 778.1L913.4 779.1L936.9 774.1L958.8 774.1L980.6 791.6L991.6 790.9" fill="none" stroke="#8c646a" stroke-width="1.4"/><path d="M736.9 721.2L825.9 721.2C827.7 724.4 833.1 734.8 836.9 740.6C840.6 746.5 844.9 751.6 849.4 757.8C853.9 764.1 860.5 773.9 865.0 779.7C869.5 785.4 873.0 789.2 877.5 793.8C882.0 798.2 888.1 803.6 893.1 807.8C898.1 812.1 903.8 816.8 908.8 820.3C913.8 823.8 919.4 826.9 924.4 829.7C929.4 832.4 934.5 835.0 940.0 837.5C945.5 840.0 952.8 843.1 958.8 845.3C964.8 847.6 972.2 850.0 977.5 851.6C982.8 853.2 989.3 854.7 991.6 855.3" fill="none" stroke="#2b64ab" stroke-width="1.6"/><path d="M736.9 721.9V920.3" stroke="#6fa8e0" stroke-width="1.6"/><path d="M736.9 885.0C739.5 884.5 753.5 881.0 758.8 880.6C764.0 880.2 775.3 882.2 780.6 881.9C786.0 881.5 797.7 877.5 803.1 877.5C808.6 877.5 820.8 881.4 825.9 881.9C831.1 882.3 841.0 881.5 846.2 881.2C851.5 881.0 864.1 879.8 869.7 879.4C875.3 879.0 887.9 878.8 893.1 878.1C898.4 877.4 908.2 873.5 913.4 873.4C918.7 873.3 931.4 876.7 936.9 877.2C942.3 877.6 953.5 878.1 958.8 877.2C964.0 876.2 976.7 870.1 980.6 869.4C984.6 868.6 990.2 870.8 991.6 870.9" fill="none" stroke="#9fcc94" stroke-width="4.6" stroke-linejoin="round"/><path d="M736.9 919.7C739.1 917.7 754.4 901.9 758.8 900.0C763.1 898.1 776.2 902.2 780.6 900.9C785.1 899.7 798.6 887.4 803.1 887.5C807.7 887.6 821.6 900.1 825.9 901.6C830.2 903.1 841.9 903.0 846.2 902.5C850.6 902.0 865.0 897.6 869.7 896.9C874.4 896.2 888.8 895.8 893.1 895.3C897.5 894.8 909.1 892.3 913.4 892.2C917.8 892.0 932.3 893.6 936.9 893.8C941.4 893.9 954.4 893.8 958.8 893.8C963.1 893.7 977.3 892.8 980.6 892.8C983.9 892.9 990.5 894.2 991.6 894.4" fill="none" stroke="#5e9a4c" stroke-width="4.6" stroke-linejoin="round"/><path d="M736.9 739.1C740.2 738.8 752.2 737.6 758.8 737.5C765.3 737.4 774.0 737.3 780.6 738.1C787.3 739.0 796.3 743.0 803.1 743.1C809.9 743.3 819.5 740.6 825.9 739.1C832.4 737.5 840.4 734.2 846.2 732.8C852.1 731.4 855.6 730.3 865.0 729.7C874.4 729.1 892.6 728.8 908.8 728.8C924.9 728.7 962.0 728.4 972.8 729.1C983.6 729.7 978.7 731.3 980.6 733.1C982.6 735.0 984.6 738.2 985.9 741.2C987.3 744.3 988.7 749.6 989.7 753.8C990.7 757.9 992.1 766.5 992.5 768.8" fill="none" stroke="#d29657" stroke-width="4.6" stroke-linejoin="round"/><path d="M736.9 722.5C740.2 722.9 745.4 724.4 758.8 725.0C772.1 725.6 809.3 726.5 825.9 726.6C842.6 726.7 853.0 726.0 869.7 725.6C886.3 725.3 918.6 724.4 936.9 724.4C955.2 724.4 983.4 725.4 991.6 725.6" fill="none" stroke="#715b9c" stroke-width="4.6" stroke-linejoin="round"/><path d="M736.9 738.1C740.2 739.0 752.2 742.9 758.8 743.8C765.3 744.6 774.0 743.7 780.6 743.8C787.3 743.8 796.3 744.4 803.1 744.4C809.9 744.4 819.5 744.9 825.9 743.8C832.4 742.6 839.7 738.6 846.2 736.9C852.8 735.1 856.1 733.0 869.7 732.2C883.3 731.3 918.6 731.2 936.9 731.2C955.2 731.3 983.4 732.3 991.6 732.5" fill="none" stroke="#2e65ac" stroke-width="5.4" stroke-linejoin="round"/></g><path d="M736.9 920.3H991.6" stroke="#b8b8c8" stroke-width="1"/><circle cx="714.4" cy="950.2" r="3.6" fill="#7b5ce0"/><circle cx="808" cy="950.2" r="3.6" fill="#8fce3f"/><circle cx="907" cy="950.2" r="3.6" fill="#1d96d8"/></svg>
<div class="t" style="top:715.90px;height:14px;line-height:14px;font-size:10.2px;color:#555;letter-spacing:0.2px;left:721.40px;transform:translateX(-100%);">20K</div>
<div class="t" style="top:739.07px;height:14px;line-height:14px;font-size:10.2px;color:#555;letter-spacing:0.2px;left:721.40px;transform:translateX(-100%);">18K</div>
<div class="t" style="top:762.24px;height:14px;line-height:14px;font-size:10.2px;color:#555;letter-spacing:0.2px;left:721.40px;transform:translateX(-100%);">16K</div>
<div class="t" style="top:785.41px;height:14px;line-height:14px;font-size:10.2px;color:#555;letter-spacing:0.2px;left:721.40px;transform:translateX(-100%);">14K</div>
<div class="t" style="top:808.58px;height:14px;line-height:14px;font-size:10.2px;color:#555;letter-spacing:0.2px;left:721.40px;transform:translateX(-100%);">12K</div>
<div class="t" style="top:831.75px;height:14px;line-height:14px;font-size:10.2px;color:#555;letter-spacing:0.2px;left:721.40px;transform:translateX(-100%);">10K</div>
<div class="t" style="top:854.92px;height:14px;line-height:14px;font-size:10.2px;color:#555;letter-spacing:0.2px;left:721.40px;transform:translateX(-100%);">8K</div>
<div class="t" style="top:878.09px;height:14px;line-height:14px;font-size:10.2px;color:#555;letter-spacing:0.2px;left:721.40px;transform:translateX(-100%);">6K</div>
<div class="t" style="top:901.26px;height:14px;line-height:14px;font-size:10.2px;color:#555;letter-spacing:0.2px;left:721.40px;transform:translateX(-100%);">4K</div>
<div class="t" style="top:944.70px;height:13px;line-height:13px;font-size:9.05px;color:#555;left:723.40px;">Avg. regular price</div>
<div class="t" style="top:944.70px;height:13px;line-height:13px;font-size:9.05px;color:#555;left:817.00px;">Avg. sellthrough %</div>
<div class="t" style="top:944.70px;height:13px;line-height:13px;font-size:9.05px;color:#555;left:916.20px;">Markdowns...</div>
<svg class="b" style="left:977.8px;top:945px;" width="11" height="11" viewBox="0 0 11 11"><rect width="11" height="11" fill="#2d6bc8"/><path d="M5.5 2V9M2 5.5H9" stroke="#fff" stroke-width="1.1"/></svg>
</div></body></html>
